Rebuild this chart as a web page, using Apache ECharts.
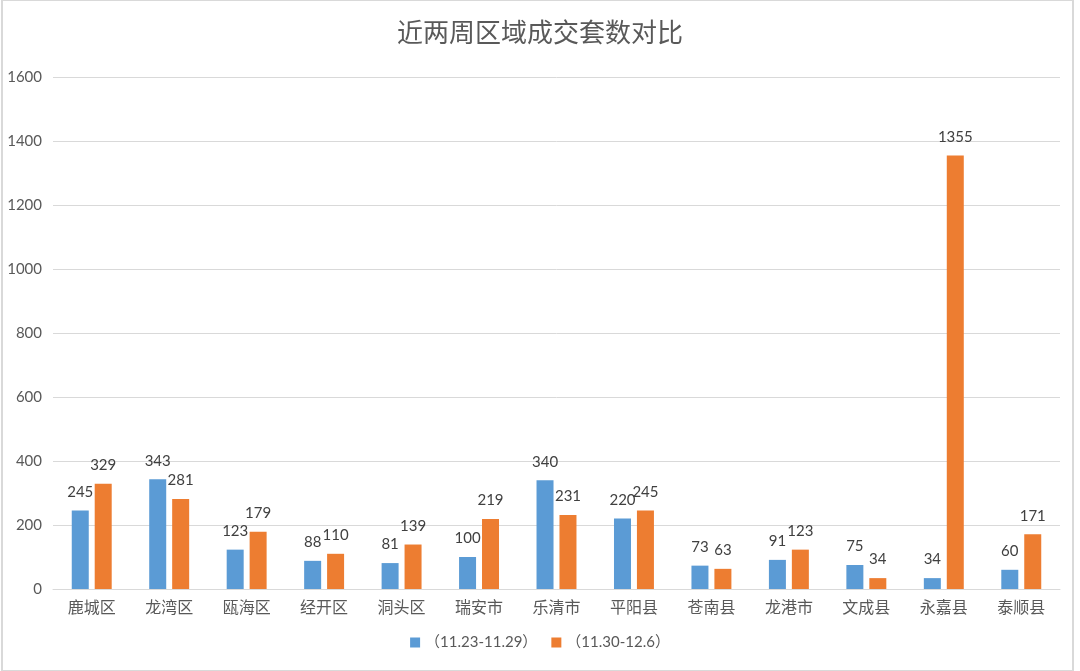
<!DOCTYPE html>
<html><head><meta charset="utf-8">
<script src="https://cdn.jsdelivr.net/npm/echarts@6/dist/echarts.min.js"></script>
<style>html,body{margin:0;padding:0;background:#fff}#c{width:1080px;height:671px}</style>
</head><body><div id="c"></div>
<script>
const categories = ['鹿城区','龙湾区','瓯海区','经开区','洞头区','瑞安市','乐清市','平阳县','苍南县','龙港市','文成县','永嘉县','泰顺县'];
const seriesNames = ['（11.23-11.29）','（11.30-12.6）'];
const week1 = [245,343,123,88,81,100,340,220,73,91,75,34,60];
const week2 = [329,281,179,110,139,219,231,245,63,123,34,1355,171];
const yTicks = {min:0,max:1600,interval:200};

const chart = echarts.init(document.getElementById('c'));
const labelStyle = {show:true,position:'top',color:'#404040',fontSize:15,fontFamily:'Lato, "Open Sans", sans-serif',distance:11};
chart.setOption({
  backgroundColor:'#fff',
  animation:false,
  title:{text:'近两周区域成交套数对比',left:'center',top:14,textStyle:{color:'#595959',fontSize:26,fontWeight:'normal',fontFamily:'"Noto Sans CJK SC", sans-serif'}},
  graphic:[{type:'rect',shape:{x:2,y:0,width:1071,height:671},style:{fill:'none',stroke:'#d9d9d9',lineWidth:2},silent:true}],
  legend:{bottom:16,left:'center',itemWidth:10,itemHeight:10,itemGap:14,icon:'rect',textStyle:{color:'#595959',fontSize:15,fontFamily:'Lato, "Noto Sans CJK SC", sans-serif'}},
  grid:{left:53,right:20,top:77,bottom:82},
  xAxis:{type:'category',data:categories,axisTick:{show:false},axisLine:{lineStyle:{color:'#d9d9d9'}},
    axisLabel:{color:'#595959',fontSize:16,margin:10,fontFamily:'"Noto Sans CJK SC", sans-serif'}},
  yAxis:{type:'value',min:yTicks.min,max:yTicks.max,interval:yTicks.interval,axisLine:{show:false},axisTick:{show:false},
    splitLine:{lineStyle:{color:'#d9d9d9',width:1}},
    axisLabel:{color:'#595959',fontSize:15,margin:11,fontFamily:'Lato, "Open Sans", sans-serif',formatter:function(v){return String(v);}}},
  series:[
    {name:seriesNames[0],type:'bar',data:week1,barWidth:17,barGap:'35%',itemStyle:{color:'#5B9BD5'},label:labelStyle},
    {name:seriesNames[1],type:'bar',data:week2,barWidth:17,itemStyle:{color:'#ED7D31'},label:labelStyle}
  ]
});
</script></body></html>
